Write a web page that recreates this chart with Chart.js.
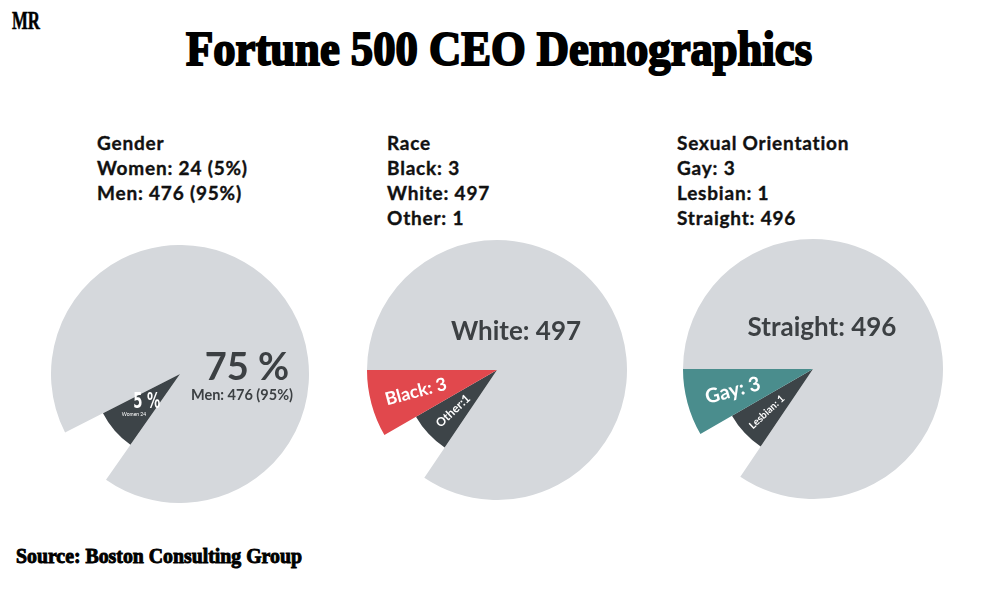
<!DOCTYPE html>
<html lang="en">
<head>
    <meta charset="UTF-8">
    <title>Fortune 500 CEO Demographics</title>
    <script src="https://cdn.jsdelivr.net/npm/chart.js"></script>
    <style>
        body {
            margin: 0;
            background: #fff;
        }
        #page {
            position: relative;
            width: 1000px;
            height: 600px;
            overflow: hidden;
            background: #fff;
        }
        .serif {
            position: absolute;
            font-family: "Liberation Serif", serif;
            font-weight: bold;
            color: #000;
            white-space: nowrap;
            transform-origin: left top;
            -webkit-text-stroke: 2px #000;
        }
        #logo { left: 12px; top: 8px; font-size: 26px; line-height: 26px; -webkit-text-stroke: 0.6px #000; }
        #title { left: 186px; top: 25px; font-size: 48px; line-height: 48px; }
        #source { left: 16px; top: 546px; font-size: 20px; line-height: 20px; -webkit-text-stroke: 0.9px #000; }
        .legend {
            position: absolute;
            top: 130px;
            font-family: Lato, sans-serif;
            font-weight: bold;
            font-size: 19px;
            line-height: 25px;
            letter-spacing: 0.8px;
            color: #111;
            white-space: nowrap;
            -webkit-text-stroke: 0.35px #111;
        }
        .pie {
            position: absolute;
        }
    </style>
</head>
<body>
<div id="page">
    <div id="logo" class="serif">MR</div>
    <div id="title" class="serif">Fortune 500 CEO Demographics</div>

    <div class="legend" id="genderText" style="left:97px"></div>
    <div class="legend" id="raceText" style="left:387px"></div>
    <div class="legend" id="orientText" style="left:677px"></div>

    <div class="pie" style="left:51px; top:245px"><canvas id="genderChart" width="258" height="258"></canvas></div>
    <div class="pie" style="left:367px; top:240px"><canvas id="raceChart" width="260" height="260"></canvas></div>
    <div class="pie" style="left:683px; top:239px"><canvas id="orientChart" width="260" height="260"></canvas></div>

    <div id="source" class="serif">Source: Boston Consulting Group</div>
</div>

<script>
// --- data ---
const genderCategories = ['Men', 'Women'];
const genderCounts = [476, 24];
const genderShares = [95, 5];
const genderSliceAngles = [332, 28];     // degrees, as drawn in the graphic
const genderSliceDepth = [1, 0.67];      // radial value, as drawn

const raceCategories = ['White', 'Other', 'Black'];
const raceCounts = [497, 1, 3];
const raceSliceAngles = [304, 26, 30];
const raceSliceDepth = [1, 0.72, 1];

const orientCategories = ['Straight', 'Lesbian', 'Gay'];
const orientCounts = [496, 1, 3];
const orientSliceAngles = [304, 26, 30];
const orientSliceDepth = [1, 0.72, 1];

const GREY = '#d5d8dc';
const DARK = '#3d4448';
const RED = '#e1484d';
const TEAL = '#4a8d8d';
const LABEL = '#3c4043';

// header lines above each pie
document.getElementById('genderText').innerHTML =
    'Gender<br>' +
    genderCategories[1] + ': ' + genderCounts[1] + ' (' + genderShares[1] + '%)<br>' +
    genderCategories[0] + ': ' + genderCounts[0] + ' (' + genderShares[0] + '%)';
document.getElementById('raceText').innerHTML =
    'Race<br>' +
    raceCategories[2] + ': ' + raceCounts[2] + '<br>' +
    raceCategories[0] + ': ' + raceCounts[0] + '<br>' +
    raceCategories[1] + ': ' + raceCounts[1];
document.getElementById('orientText').innerHTML =
    'Sexual Orientation<br>' +
    orientCategories[2] + ': ' + orientCounts[2] + '<br>' +
    orientCategories[1] + ': ' + orientCounts[1] + '<br>' +
    orientCategories[0] + ': ' + orientCounts[0];

// squeeze serif headings to the width they have in the graphic
function fitWidth(id, target) {
    var el = document.getElementById(id);
    var w = el.getBoundingClientRect().width;
    el.style.transform = 'scaleX(' + (target / w) + ')';
}
fitWidth('logo', 28);
fitWidth('title', 626);
fitWidth('source', 286);

// text drawn on top of the slices
const sliceLabels = {
    id: 'sliceLabels',
    afterDatasetsDraw(chart, args, opts) {
        const ctx = chart.ctx;
        const arcs = chart.getDatasetMeta(0).data;
        (opts.items || []).forEach(function (item) {
            let x, y, rot = 0;
            if (item.index !== undefined) {
                const arc = arcs[item.index];
                const mid = (arc.startAngle + arc.endAngle) / 2;
                x = arc.x + Math.cos(mid) * item.dist;
                y = arc.y + Math.sin(mid) * item.dist;
                if (item.rotate) rot = mid - Math.PI;
            } else {
                x = arcs[0].x;
                y = arcs[0].y;
            }
            ctx.save();
            ctx.font = item.font;
            ctx.fillStyle = item.color;
            ctx.textAlign = 'center';
            ctx.textBaseline = 'middle';
            ctx.translate(x + (item.dx || 0), y + (item.dy || 0));
            ctx.rotate(rot);
            if (item.sx) ctx.scale(item.sx, 1);
            ctx.fillText(item.text, 0, 0);
            ctx.restore();
        });
    }
};

function makePie(id, categories, depth, angles, colors, startAngle, items) {
    return new Chart(document.getElementById(id), {
        type: 'polarArea',
        data: {
            labels: categories,
            datasets: [{
                data: depth,
                angle: angles,
                backgroundColor: colors,
                borderWidth: 0
            }]
        },
        options: {
            responsive: false,
            animation: false,
            events: [],
            layout: { padding: 0 },
            scales: {
                r: { display: false, min: 0, max: 1, startAngle: startAngle }
            },
            plugins: {
                legend: { display: false },
                tooltip: { enabled: false },
                sliceLabels: { items: items }
            }
        },
        plugins: [sliceLabels]
    });
}

makePie('genderChart', genderCategories, genderSliceDepth, genderSliceAngles,
    [GREY, DARK], 243, [
        { text: '75 %', font: 'bold 38px Lato', color: LABEL, dx: 67, dy: -6 },
        { text: genderCategories[0] + ': ' + genderCounts[0] + ' (' + genderShares[0] + '%)',
          font: 'bold 14.5px Lato', color: LABEL, dx: 62, dy: 21 },
        { index: 1, dist: 44, text: genderShares[1] + ' %', font: 'bold 21px "DejaVu Sans Condensed"', color: '#fff', sx: 0.7 },
        { index: 1, dist: 61, text: genderCategories[1] + ' ' + genderCounts[1], font: '5px Lato', color: '#fff' }
    ]);

makePie('raceChart', raceCategories, raceSliceDepth, raceSliceAngles,
    [GREY, DARK, RED], 270, [
        { text: raceCategories[0] + ': ' + raceCounts[0], font: 'bold 26px Lato', color: LABEL, dx: 19, dy: -38 },
        { index: 2, dist: 84, rotate: true, text: raceCategories[2] + ': ' + raceCounts[2], font: 'bold 18px Lato', color: '#fff' },
        { index: 1, dist: 60, rotate: true, text: raceCategories[1] + ':' + raceCounts[1], font: 'bold 12px Lato', color: '#fff' }
    ]);

makePie('orientChart', orientCategories, orientSliceDepth, orientSliceAngles,
    [GREY, DARK, TEAL], 270, [
        { text: orientCategories[0] + ': ' + orientCounts[0], font: 'bold 26px Lato', color: LABEL, dx: 9, dy: -41 },
        { index: 2, dist: 83, rotate: true, text: orientCategories[2] + ': ' + orientCounts[2], font: 'bold 20px Lato', color: '#fff' },
        { index: 1, dist: 63, rotate: true, text: orientCategories[1] + ': ' + orientCounts[1], font: 'bold 10px Lato', color: '#fff' }
    ]);
</script>
</body>
</html>
